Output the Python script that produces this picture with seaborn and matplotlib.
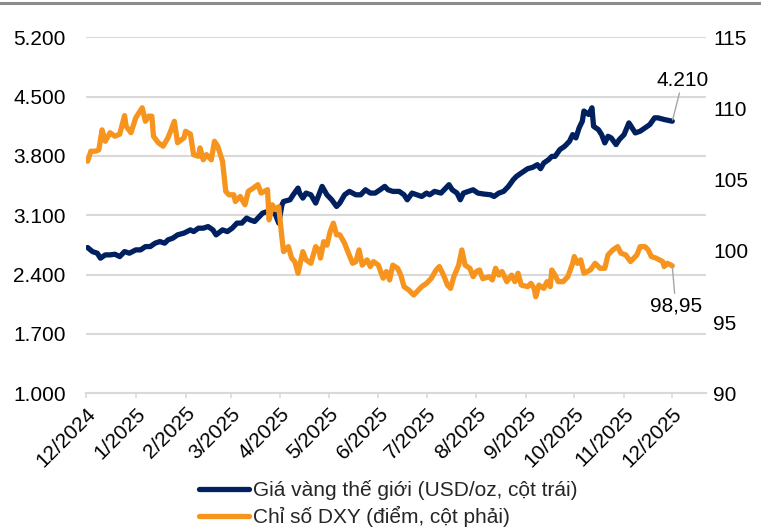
import numpy as np
import pandas as pd
import matplotlib
matplotlib.use("Agg")
import matplotlib.pyplot as plt
from matplotlib.ticker import FuncFormatter, FixedLocator
from matplotlib.lines import Line2D
import seaborn as sns

# ---------------- data ----------------
start_date = "2024-12-01"

# Gold price (USD/oz, left axis) - days since 2024-12-01
gold_days = [1, 4, 7, 9, 12, 15, 18, 21, 24, 27,
             31, 34, 37, 40, 43, 46, 49, 51, 54, 57,
             61, 65, 67, 70, 73, 76, 79, 81, 85, 88,
             91, 94, 97, 100, 102, 105, 107, 110, 113, 115,
             118, 120, 122, 123, 127, 129, 132, 133, 135, 137,
             140, 143, 145, 147, 150, 153, 156, 158, 161, 164,
             168, 171, 174, 177, 180, 183, 186, 188, 191, 195,
             198, 200, 203, 206, 209, 212, 214, 217, 221, 224,
             226, 228, 231, 233, 235, 238, 241, 244, 248, 252,
             254, 257, 260, 263, 266, 268, 271, 275, 278, 281,
             283, 285, 288, 290, 292, 295, 298, 301, 303, 305,
             307, 309, 310, 313, 315, 316, 319, 321, 323, 325,
             327, 330, 332, 335, 338, 340, 342, 345, 348, 351,
             354, 356, 360, 363, 365]
gold_vals = [2720, 2672, 2653, 2594, 2633, 2633, 2641, 2613, 2672, 2653,
             2692, 2692, 2731, 2731, 2771, 2790, 2771, 2810, 2830, 2869,
             2890, 2928, 2908, 2948, 2948, 2967, 2928, 2869, 2928, 2908,
             2948, 3008, 3008, 3067, 3047, 3027, 3067, 3126, 3145, 3165,
             3106, 3008, 3224, 3263, 3283, 3342, 3421, 3362, 3303, 3362,
             3342, 3244, 3342, 3441, 3342, 3283, 3204, 3244, 3342, 3382,
             3342, 3342, 3401, 3362, 3362, 3400, 3441, 3401, 3382, 3382,
             3342, 3283, 3362, 3342, 3322, 3362, 3342, 3382, 3362, 3421,
             3461, 3401, 3362, 3283, 3362, 3382, 3401, 3362, 3350, 3342,
             3322, 3362, 3382, 3441, 3520, 3559, 3599, 3650, 3665, 3697,
             3650, 3717, 3756, 3795, 3795, 3875, 3914, 3973, 4052, 4013,
             4131, 4210, 4330, 4289, 4368, 4150, 4111, 4052, 3954, 4032,
             4013, 3934, 3993, 4052, 4190, 4131, 4072, 4092, 4131, 4170,
             4250, 4250, 4230, 4218, 4210]

# DXY index (points, right axis) - days since 2024-12-01
dxy_days = [1, 3, 6, 8, 10, 12, 15, 18, 21, 24,
            25, 28, 31, 33, 35, 37, 39, 41, 42, 45,
            48, 51, 53, 55, 57, 61, 62, 65, 67, 70,
            71, 73, 75, 78, 80, 82, 85, 87, 89, 92,
            93, 96, 99, 101, 104, 107, 109, 113, 114, 116,
            118, 120, 122, 123, 126, 128, 130, 132, 135, 137,
            140, 143, 145, 146, 148, 150, 152, 154, 156, 158,
            161, 163, 166, 168, 170, 172, 175, 177, 179, 182,
            185, 187, 189, 191, 194, 196, 198, 201, 204, 206,
            209, 212, 215, 218, 220, 223, 225, 227, 229, 232,
            234, 236, 239, 241, 243, 245, 247, 251, 253, 255,
            257, 259, 262, 265, 267, 269, 271, 275, 277, 279,
            280, 282, 285, 287, 289, 290, 292, 294, 297, 300,
            303, 304, 306, 308, 310, 314, 317, 320, 323, 325,
            328, 331, 333, 336, 339, 341, 343, 345, 348, 350,
            352, 355, 359, 360, 362, 365]
dxy_vals = [106.3, 107.0, 107.0, 107.1, 108.5, 107.7, 108.3, 108.05, 108.2, 109.5,
            108.75, 108.3, 109.35, 109.7, 110.05, 109.1, 109.46, 109.46, 108.05, 107.6,
            107.35, 107.94, 108.5, 109.1, 107.6, 107.94, 108.4, 108.2, 106.76, 106.64,
            107.23, 106.4, 106.76, 106.4, 107.7, 107.35, 106.3, 104.18, 103.94, 103.94,
            103.47, 103.82, 103.24, 104.18, 104.4, 104.65, 104.06, 104.3, 102.18, 103.24,
            102.9, 103.1, 100.9, 99.95, 100.3, 99.5, 99.25, 98.43, 99.95, 99.37,
            99.13, 100.3, 100.07, 99.5, 100.65, 100.4, 101.36, 101.95, 101.13, 101.13,
            100.54, 99.95, 99.13, 99.25, 100.07, 99.0, 99.37, 98.9, 99.25, 99.0,
            98.08, 98.55, 97.96, 99.0, 98.78, 98.3, 97.49, 97.25, 96.9, 97.13,
            97.49, 97.72, 98.08, 98.66, 98.9, 98.19, 97.6, 97.37, 98.19, 99.0,
            100.07, 99.0, 98.78, 98.19, 98.55, 98.66, 98.05, 98.19, 97.96, 98.78,
            98.3, 98.55, 97.84, 98.3, 97.84, 98.43, 97.6, 97.49, 97.72, 97.37,
            96.78, 97.6, 97.37, 97.84, 97.49, 98.66, 98.3, 97.84, 97.84, 98.19,
            99.13, 99.6, 99.13, 99.37, 98.43, 98.66, 99.13, 98.78, 98.78, 99.72,
            100.07, 100.3, 99.84, 99.72, 99.25, 99.49, 99.72, 100.3, 100.3, 100.07,
            99.6, 99.49, 99.25, 98.9, 99.13, 98.95]

gold_label = "Giá vàng thế giới (USD/oz, cột trái)"
dxy_label = "Chỉ số DXY (điểm, cột phải)"
gold_last_text = "4.210"
dxy_last_text = "98,95"

left_ticks = [1000, 1700, 2400, 3100, 3800, 4500, 5200]
right_ticks = [90, 95, 100, 105, 110, 115]
month_ticks = pd.date_range("2024-12-01", "2025-12-01", freq="MS")
x_end = "2025-12-22"

assert len(gold_days) == len(gold_vals)
assert len(dxy_days) == len(dxy_vals)

base = pd.Timestamp(start_date)
gold_df = pd.DataFrame({"date": base + pd.to_timedelta(gold_days, unit="D"), "value": gold_vals})
dxy_df = pd.DataFrame({"date": base + pd.to_timedelta(dxy_days, unit="D"), "value": dxy_vals})

# ---------------- style ----------------
sns.set_theme(style="white")
plt.rcParams["font.family"] = ["Liberation Sans", "DejaVu Sans"]
FS = 15
NAVY = "#002060"
ORANGE = "#F7941D"
GRID = "#D9D9D9"

fig = plt.figure(figsize=(7.61, 5.30), dpi=100)
W, H = 761, 530
ax = fig.add_axes([86 / W, 1 - 393.3 / H, (706 - 86) / W, (393.3 - 37.3) / H])
ax2 = ax.twinx()

sns.lineplot(data=gold_df, x="date", y="value", ax=ax, color=NAVY, lw=3.8, legend=False)
sns.lineplot(data=dxy_df, x="date", y="value", ax=ax2, color=ORANGE, lw=3.8, legend=False)

ax.set_ylim(left_ticks[0], left_ticks[-1])
ax2.set_ylim(right_ticks[0], right_ticks[-1])
ax.set_xlim(base, pd.Timestamp(x_end))

ax.yaxis.set_major_locator(FixedLocator(left_ticks))
ax2.yaxis.set_major_locator(FixedLocator(right_ticks))
ax.yaxis.set_major_formatter(FuncFormatter(lambda v, p: f"{v:,.0f}".replace(",", ".")))
ax2.yaxis.set_major_formatter(FuncFormatter(lambda v, p: f"{v:.0f}"))

ax.set_xticks(month_ticks)
ax.set_xticklabels([f"{d.month}/{d.year}" for d in month_ticks], rotation=45,
                   ha="right", rotation_mode="anchor", fontsize=FS)

ax.grid(axis="y", color=GRID, lw=1.5)
ax.grid(axis="x", visible=False)
ax2.grid(False)
ax.set_axisbelow(True)

for a in (ax, ax2):
    for s in ("top", "left", "right", "bottom"):
        a.spines[s].set_visible(False)
    a.set_xlabel("")
    a.set_ylabel("")

ax.spines["bottom"].set_visible(True)
ax.spines["bottom"].set_color(GRID)
ax.spines["bottom"].set_linewidth(1.5)

ax.tick_params(axis="x", which="major", bottom=True, length=3.6, width=1.2, color=GRID,
               pad=4, labelsize=FS, labelcolor="black")
ax.tick_params(axis="y", left=False, length=0, pad=14.5, labelsize=FS, labelcolor="black")
ax2.tick_params(axis="y", right=False, length=0, pad=5, labelsize=FS, labelcolor="black")

# end-value annotations
ax.annotate(gold_last_text, xy=(gold_df["date"].iloc[-1], gold_df["value"].iloc[-1]),
            xytext=(7.5, 29.5), textcoords="offset points", ha="center", va="center",
            fontsize=FS, color="black",
            arrowprops=dict(arrowstyle="-", color="#A6A6A6", lw=1.0, shrinkA=0, shrinkB=1))
ax2.annotate(dxy_last_text, xy=(dxy_df["date"].iloc[-1], dxy_df["value"].iloc[-1]),
             xytext=(2.5, -29), textcoords="offset points", ha="center", va="center",
             fontsize=FS, color="black",
             arrowprops=dict(arrowstyle="-", color="#A6A6A6", lw=1.0, shrinkA=0, shrinkB=1))

# legend
handles = [Line2D([], [], color=NAVY, lw=3.8), Line2D([], [], color=ORANGE, lw=3.8)]
fig.legend(handles, [gold_label, dxy_label], loc="center", bbox_to_anchor=(388 / W, 1 - 503.5 / H),
           frameon=False, fontsize=FS, handlelength=2.4, handletextpad=0.2,
           labelspacing=0.28, borderpad=0, borderaxespad=0)

# top border line
fig.add_artist(Line2D([0, 1], [1 - 2.5 / H, 1 - 2.5 / H], color="#8C8C8C", lw=2.2,
                      transform=fig.transFigure))

fig.savefig("out.png", dpi=100)
